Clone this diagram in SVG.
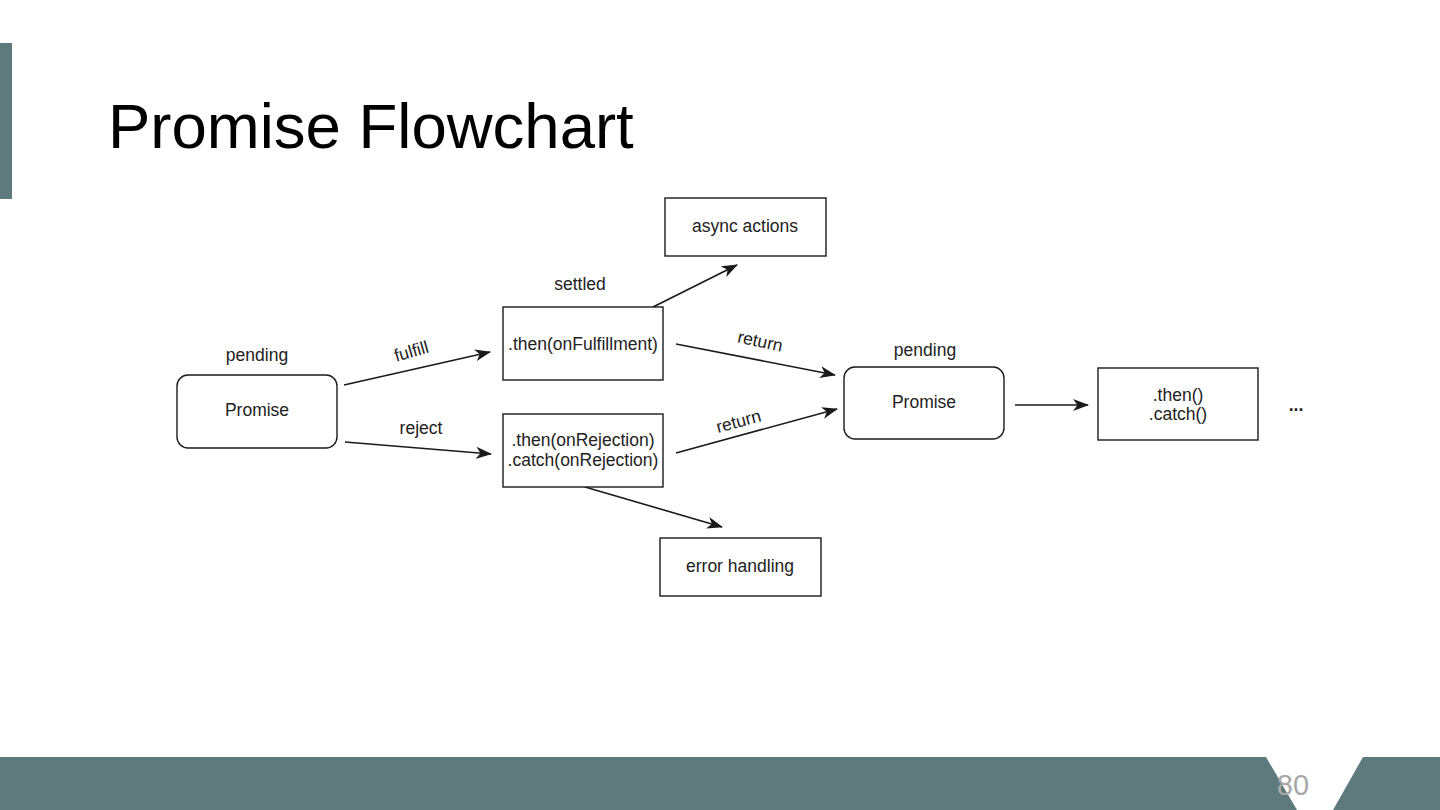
<svg xmlns="http://www.w3.org/2000/svg" width="1440" height="810" viewBox="0 0 1440 810">
<defs>
<style>
.box{fill:#fff;stroke:#1a1a1a;stroke-width:1.4}
.t{font-family:"Liberation Sans",Arial,sans-serif;font-size:17.5px;fill:#222;text-anchor:middle}
.c{fill:none;stroke:#1a1a1a;stroke-width:1.6;marker-end:url(#ah)}
</style>
<marker id="ah" viewBox="0 0 16 12" refX="15" refY="6" markerWidth="16" markerHeight="12" markerUnits="userSpaceOnUse" orient="auto">
<path d="M0,0 L16,6 L0,12 L4.5,6 Z" fill="#1a1a1a"/>
</marker>
</defs>
<rect width="1440" height="810" fill="#fff"/>
<rect x="0" y="43" width="12" height="156" fill="#5f7a7d"/>
<path d="M0,757 L1266,757 L1297,810 L0,810 Z" fill="#5f7a7d"/>
<path d="M1363,757 L1440,757 L1440,810 L1333,810 Z" fill="#5f7a7d"/>
<text x="1293" y="795" font-family="'Liberation Sans',Arial,sans-serif" font-size="29" fill="#a8a8a8" text-anchor="middle">80</text>
<text x="108" y="148" font-family="'Liberation Sans',Arial,sans-serif" font-size="63.5" fill="#000">Promise Flowchart</text>

<g id="connectors">
<line class="c" x1="344" y1="385" x2="490" y2="352"/>
<line class="c" x1="345" y1="442" x2="491" y2="454"/>
<line class="c" x1="676" y1="344" x2="835" y2="375"/>
<line class="c" x1="676" y1="453" x2="837" y2="409"/>
<line class="c" x1="653" y1="307" x2="737" y2="265"/>
<line class="c" x1="585" y1="487" x2="722" y2="527"/>
<line class="c" x1="1015" y1="405" x2="1088" y2="405"/>
<text class="t" transform="translate(413,357) rotate(-16)">fulfill</text>
<text class="t" x="421" y="434">reject</text>
<text class="t" transform="translate(759,347) rotate(12)">return</text>
<text class="t" transform="translate(740,427) rotate(-15)">return</text>
</g>

<g id="promise-start">
<rect class="box" x="177" y="375" width="160" height="73" rx="11"/>
<text class="t" x="257" y="416">Promise</text>
<text class="t" x="257" y="361">pending</text>
</g>
<g id="then-fulfill">
<rect class="box" x="503" y="307" width="160" height="73"/>
<text class="t" x="583" y="350">.then(onFulfillment)</text>
<text class="t" x="580" y="290">settled</text>
</g>
<g id="async-actions">
<rect class="box" x="665" y="198" width="161" height="58"/>
<text class="t" x="745" y="232">async actions</text>
</g>
<g id="then-reject">
<rect class="box" x="503" y="414" width="160" height="73"/>
<text class="t" x="583" y="446">.then(onRejection)</text>
<text class="t" x="583" y="466">.catch(onRejection)</text>
</g>
<g id="error-handling">
<rect class="box" x="660" y="538" width="161" height="58"/>
<text class="t" x="740" y="572">error handling</text>
</g>
<g id="promise-next">
<rect class="box" x="844" y="367" width="160" height="72" rx="11"/>
<text class="t" x="924" y="408">Promise</text>
<text class="t" x="925" y="356">pending</text>
</g>
<g id="then-catch">
<rect class="box" x="1098" y="368" width="160" height="72"/>
<text class="t" x="1178" y="401">.then()</text>
<text class="t" x="1178" y="420">.catch()</text>
</g>
<g id="ellipsis">
<text class="t" x="1296" y="411" font-weight="bold" font-size="19">...</text>
</g>
</svg>
